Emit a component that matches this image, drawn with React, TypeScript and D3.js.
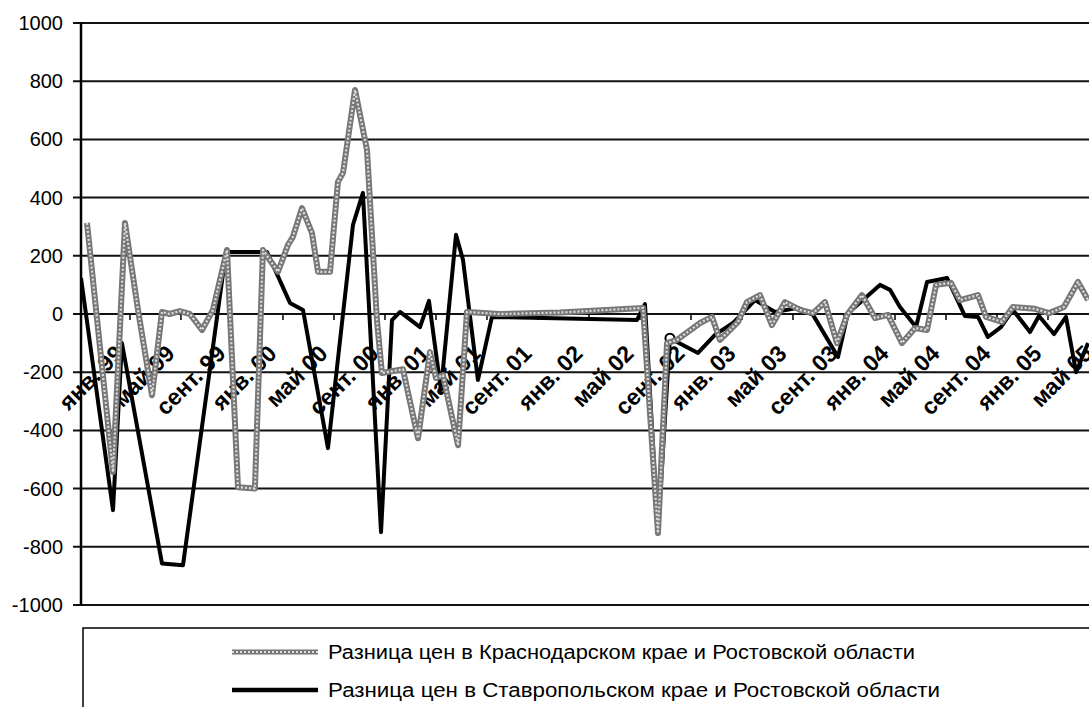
import React from "react";
import * as d3 from "d3";

// ---- data ----
const yTicks = [-1000, -800, -600, -400, -200, 0, 200, 400, 600, 800, 1000];
const xTickLabels = [
  "янв. 99", "май 99", "сент. 99", "янв. 00", "май 00", "сент. 00",
  "янв. 01", "май 01", "сент. 01", "янв. 02", "май 02", "сент. 02",
  "янв. 03", "май 03", "сент. 03", "янв. 04", "май 04", "сент. 04",
  "янв. 05", "май 05",
];
// month offsets from "янв. 99" for each tick label
const xTickMonths = [0, 4, 8, 12, 16, 20, 24, 28, 32, 36, 40, 44, 48, 52, 56, 60, 64, 68, 72, 76];

const seriesNames = [
  "Разница цен в Краснодарском крае и Ростовской области",
  "Разница цен в Ставропольском крае и Ростовской области",
];

// Krasnodar – Rostov (grey patterned line)
const krasMonths = [
  -3.37, -1.33, -0.39, 0.63, 1.73, 2.51, 3.1, 3.9, 4.7, 5.65, 6.51, 7.61, 8.47, 9.8,
  10.43, 11.61, 12.39, 12.78, 13.49, 14.27, 14.75, 15.69, 16.31, 16.71, 17.65, 18.59,
  19.37, 19.76, 21.41, 22.59, 23.53, 24.0, 24.55, 25.73, 26.43, 29.02, 33.73, 40.24,
  41.41, 42.12, 42.9, 44.71, 45.65, 46.27, 47.69, 48.39, 49.41, 50.35, 51.37, 52.55,
  53.57, 54.51, 55.45, 56.24, 57.41, 58.43, 59.45, 60.55, 61.57, 62.51, 63.22, 64.39,
  65.1, 66.51, 67.14, 68.39, 69.25, 70.98, 72.08, 73.25, 74.35, 75.14,
];
const krasValues = [
  313, -543, 313, 14, -279, 7, 0, 10, 0, -55, 14, 220, -595, -600,
  220, 145, 237, 265, 364, 279, 145, 145, 454, 485, 770, 564,
  -21, -203, -190, -427, -131, -220, -210, -451, 7, 0, 5, 21,
  -753, -100, -89, -31, -10, -89, -27, 41, 65, -38, 41, 14,
  3, 41, -100, -3, 65, -14, -3, -100, -48, -55, 100, 107,
  48, 65, -10, -27, 24, 18, 3, 24, 110, 48,
];

// Stavropol – Rostov (black line)
const stavMonths = [
  -3.84, -1.33, -0.63, 2.51, 4.16, 7.53, 10.75, 12.55, 13.57, 15.53, 17.49, 18.27,
  19.69, 20.55, 21.18, 22.75, 23.45, 24.39, 25.57, 26.12, 27.29, 28.39, 39.76, 40.39,
  41.41, 42.35, 44.55, 45.88, 47.29, 49.02, 50.59, 52.39, 53.57, 55.53, 56.31, 58.82,
  59.61, 60.39, 61.65, 62.51, 64.08, 65.49, 66.51, 67.29, 68.31, 69.25, 70.59, 71.29,
  72.47, 73.41, 74.2, 75.14,
];
const stavValues = [
  124, -674, -100, -857, -863, 213, 213, 38, 14, -461, 306, 416,
  -750, -21, 7, -45, 45, -261, 272, 186, -227, -10, -21, 34,
  -750, -83, -134, -72, -31, 48, 7, 21, -3, -148, 3, 100,
  83, 24, -45, 110, 124, -7, -10, -79, -45, 14, -62, -7,
  -69, -10, -200, -100,
];
const markerIndex = 25;

// ---- layout ----
const W = 1089;
const H = 707;
const plotLeft = 81;
const plotRight = 1089;
const plotTop = 23;
const plotBottom = 605;

const xScale = d3.scaleLinear().domain([-3.84, 76]).range([plotLeft, 1099]);
const yScale = d3.scaleLinear().domain([-1000, 1000]).range([plotBottom, plotTop]);

const line = d3
  .line<[number, number]>()
  .x((d) => xScale(d[0]))
  .y((d) => yScale(d[1]));

const krasData: [number, number][] = krasMonths.map((m, i) => [m, krasValues[i]]);
const stavData: [number, number][] = stavMonths.map((m, i) => [m, stavValues[i]]);

export default function App() {
  const y0 = yScale(0);
  const font = "'Liberation Sans', Arial, Helvetica, sans-serif";
  return (
    <svg
      width={W}
      height={H}
      style={{ position: "absolute", left: 0, top: 0, background: "#fff" }}
      fontFamily={font}
    >
      <defs>
        <clipPath id="plotClip">
          <rect x={plotLeft} y={0} width={plotRight - plotLeft} height={plotBottom + 5} />
        </clipPath>
      </defs>
      <rect x={0} y={0} width={W} height={H} fill="#fff" />

      {/* gridlines */}
      {yTicks.map((t) => (
        <line
          key={"g" + t}
          x1={73}
          x2={plotRight}
          y1={yScale(t)}
          y2={yScale(t)}
          stroke="#111"
          strokeWidth={2}
        />
      ))}
      {/* y axis */}
      <line x1={plotLeft} x2={plotLeft} y1={plotTop} y2={plotBottom} stroke="#000" strokeWidth={2.5} />
      {yTicks.map((t) => (
        <text key={"yl" + t} x={63} y={yScale(t)} dy="0.35em" textAnchor="end" fontSize={20} fill="#000">
          {t}
        </text>
      ))}

      {/* x ticks */}
      {xTickMonths.map((m) => (
        <line
          key={"xt" + m}
          x1={xScale(m)}
          x2={xScale(m)}
          y1={y0}
          y2={y0 + 6}
          stroke="#000"
          strokeWidth={1.5}
        />
      ))}

      {/* x labels (drawn beneath series, as in reference) */}
      {xTickLabels.map((lab, i) => (
        <text
          key={"xl" + i}
          transform={`translate(${xScale(xTickMonths[i]) - 5},${355}) rotate(-45)`}
          textAnchor="end"
          fontSize={23}
          fontWeight="bold"
          fill="#000"
        >
          {lab}
        </text>
      ))}

      {/* series */}
      <g clipPath="url(#plotClip)">
        <path d={line(stavData) || ""} fill="none" stroke="#000" strokeWidth={4} strokeLinejoin="round" />
        <circle
          cx={xScale(stavMonths[markerIndex])}
          cy={yScale(stavValues[markerIndex])}
          r={4.5}
          fill="#fff"
          stroke="#000"
          strokeWidth={2}
        />
        <path d={line(krasData) || ""} fill="none" stroke="#777" strokeWidth={6} strokeLinejoin="round" />
        <path
          d={line(krasData) || ""}
          fill="none"
          stroke="#dedede"
          strokeWidth={2.2}
          strokeDasharray="2 2"
          strokeLinejoin="round"
        />
      </g>

      {/* legend */}
      <path d={`M83,${H} V628 H${W}`} fill="none" stroke="#000" strokeWidth={1.5} />
      <line x1={232} x2={318} y1={652} y2={652} stroke="#777" strokeWidth={5} />
      <line x1={232} x2={318} y1={652} y2={652} stroke="#dedede" strokeWidth={2} strokeDasharray="2 2" />
      <text x={328} y={652} dy="0.35em" fontSize={20} fill="#000" textLength={587} lengthAdjust="spacingAndGlyphs">
        {seriesNames[0]}
      </text>
      <line x1={232} x2={318} y1={690} y2={690} stroke="#000" strokeWidth={4.5} />
      <text x={328} y={690} dy="0.35em" fontSize={20} fill="#000" textLength={612} lengthAdjust="spacingAndGlyphs">
        {seriesNames[1]}
      </text>
    </svg>
  );
}
